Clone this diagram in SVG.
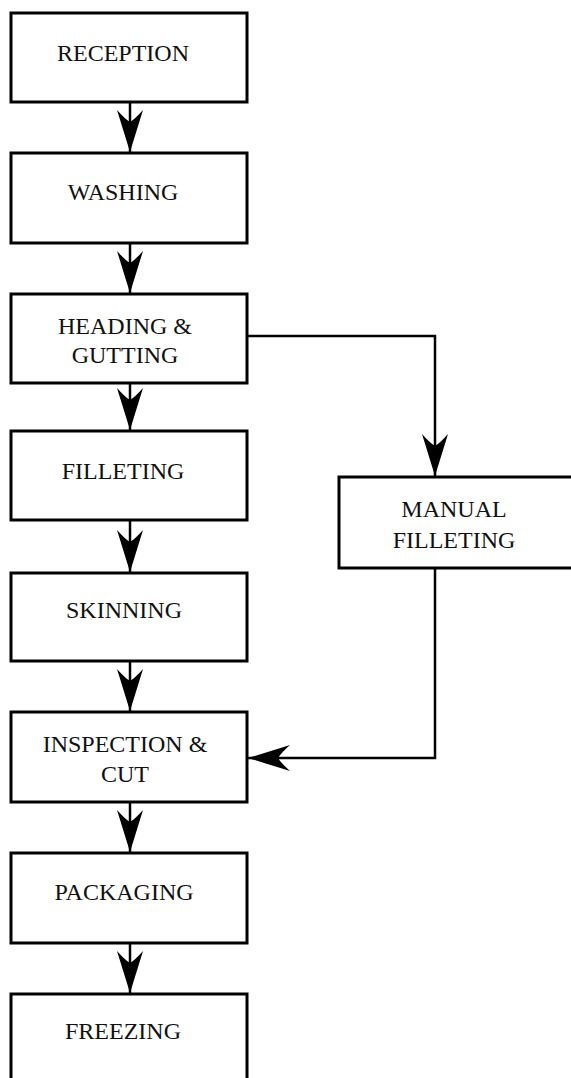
<svg xmlns="http://www.w3.org/2000/svg" width="571" height="1078" viewBox="0 0 571 1078">
<style>
.box{fill:#fff;stroke:#000;stroke-width:3}
.lbl{font-family:"Liberation Serif","Times New Roman",serif;font-size:24px;fill:#111;text-anchor:middle}
.con{fill:none;stroke:#000;stroke-width:2.5}
</style>
<defs>
<marker id="ah" markerUnits="userSpaceOnUse" viewBox="-44 -14 46 28" markerWidth="46" markerHeight="28" refX="0" refY="0" orient="auto">
<path d="M0,0 L-42,-13 Q-33,-5 -30,0 Q-33,5 -42,13 Z" fill="#000"/>
</marker>
</defs>
<rect width="571" height="1078" fill="#fff"/>
<g id="connectors">
<line class="con" x1="130" y1="102" x2="130" y2="152" marker-end="url(#ah)"/>
<line class="con" x1="130" y1="243" x2="130" y2="293" marker-end="url(#ah)"/>
<line class="con" x1="130" y1="383" x2="130" y2="430" marker-end="url(#ah)"/>
<line class="con" x1="130" y1="520" x2="130" y2="572" marker-end="url(#ah)"/>
<line class="con" x1="130" y1="661" x2="130" y2="711" marker-end="url(#ah)"/>
<line class="con" x1="130" y1="802" x2="130" y2="852" marker-end="url(#ah)"/>
<line class="con" x1="130" y1="943" x2="130" y2="993" marker-end="url(#ah)"/>
<polyline class="con" points="247,336 435,336 435,476" marker-end="url(#ah)"/>
<polyline class="con" points="435,568 435,758 248,758" marker-end="url(#ah)"/>
</g>
<g id="reception"><rect class="box" x="11" y="13" width="236" height="89"/><text class="lbl" x="123" y="61">RECEPTION</text></g>
<g id="washing"><rect class="box" x="11" y="153" width="236" height="90"/><text class="lbl" x="123" y="200">WASHING</text></g>
<g id="heading"><rect class="box" x="11" y="294" width="236" height="89"/><text class="lbl" x="125" y="334">HEADING &amp;</text><text class="lbl" x="125" y="363">GUTTING</text></g>
<g id="filleting"><rect class="box" x="11" y="431" width="236" height="89"/><text class="lbl" x="123" y="479">FILLETING</text></g>
<g id="skinning"><rect class="box" x="11" y="573" width="236" height="88"/><text class="lbl" x="124" y="618">SKINNING</text></g>
<g id="inspection"><rect class="box" x="11" y="712" width="236" height="90"/><text class="lbl" x="125" y="752">INSPECTION &amp;</text><text class="lbl" x="125" y="782">CUT</text></g>
<g id="packaging"><rect class="box" x="11" y="853" width="236" height="90"/><text class="lbl" x="124" y="900">PACKAGING</text></g>
<g id="freezing"><rect class="box" x="11" y="994" width="236" height="90"/><text class="lbl" x="123" y="1039">FREEZING</text></g>
<g id="manual"><rect class="box" x="339" y="477" width="245" height="91"/><text class="lbl" x="454" y="517">MANUAL</text><text class="lbl" x="454" y="548">FILLETING</text></g>
</svg>
